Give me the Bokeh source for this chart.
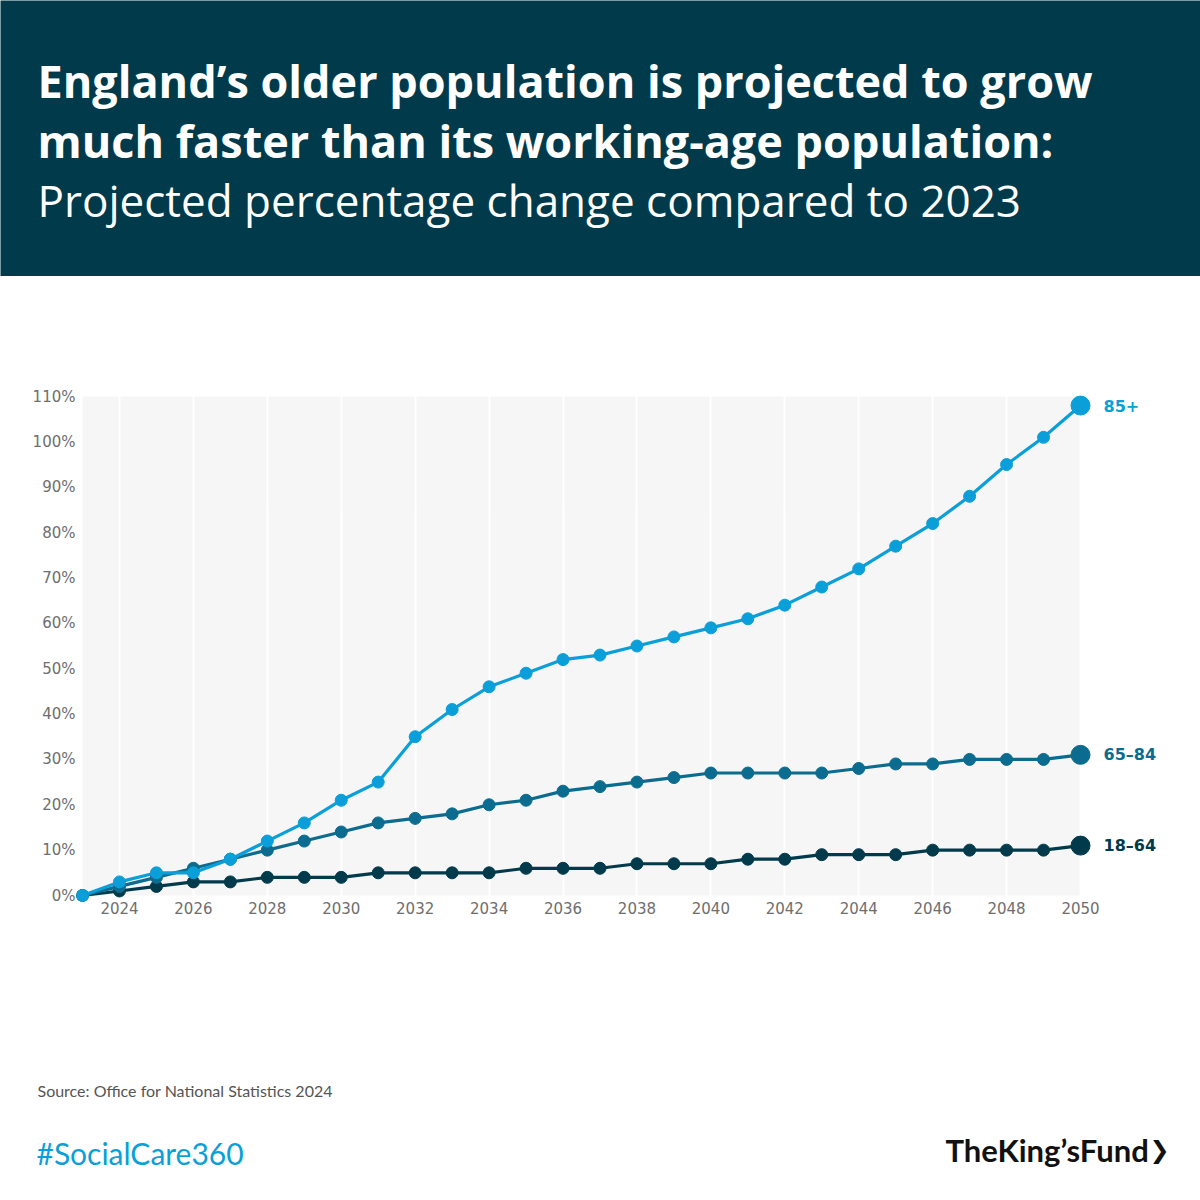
from bokeh.plotting import figure
from bokeh.layouts import column
from bokeh.models import Range1d, FixedTicker, ColumnDataSource
from bokeh.core.properties import value
from bokeh.embed import file_html
from bokeh.resources import INLINE

# ---------------- data ----------------
years = list(range(2023, 2051))
age_85_plus = [0, 3, 5, 5, 8, 12, 16, 21, 25, 35, 41, 46, 49, 52, 53, 55, 57, 59, 61, 64,
               68, 72, 77, 82, 88, 95, 101, 108]
age_65_84 = [0, 2, 4, 6, 8, 10, 12, 14, 16, 17, 18, 20, 21, 23, 24, 25, 26, 27, 27, 27,
             27, 28, 29, 29, 30, 30, 30, 31]
age_18_64 = [0, 1, 2, 3, 3, 4, 4, 4, 5, 5, 5, 5, 6, 6, 6, 7, 7, 7, 8, 8,
             9, 9, 9, 10, 10, 10, 10, 11]
series_names = ["18–64", "65–84", "85+"]
series_values = [age_18_64, age_65_84, age_85_plus]
series_colors = ["#003a4b", "#0b6c8f", "#0a9fd8"]

x_ticks = list(range(2024, 2051, 2))
y_ticks = list(range(0, 111, 10))
y_tick_labels = [f"{v}%" for v in y_ticks]

title_lines = ["England’s older population is projected to grow",
               "much faster than its working-age population:"]
subtitle = "Projected percentage change compared to 2023"
source_text = "Source: Office for National Statistics 2024"
hashtag = "#SocialCare360"
logo_text = "TheKing’sFund"

HEADER_BG = "#003a4b"
W = 1200


def blank_fig(h, y_top, y_bottom, bg):
    f = figure(width=W, height=h, x_range=Range1d(0, W), y_range=Range1d(y_bottom, y_top),
               x_axis_type=None, y_axis_type=None, toolbar_location=None,
               output_backend="svg", min_border=0, title=None,
               background_fill_color=bg, border_fill_color=bg,
               outline_line_color=None, frame_align=False)
    f.grid.visible = False
    return f


# ---------------- header ----------------
hdr = blank_fig(276, 0, 276, HEADER_BG)
hdr.text(x=[37, 37], y=[80, 140], text=title_lines, text_color="white",
         text_font=value("Open Sans"), text_font_style="bold", text_font_size="45px",
         text_baseline="middle", text_align="left")
hdr.text(x=[37], y=[199], text=[subtitle], text_color="white",
         text_font=value("Open Sans"), text_font_size="44px",
         text_baseline="middle", text_align="left")

# ---------------- chart ----------------
px_per_year = 998 / 27
px_per_pct = 499 / 110
x0 = 2023 - 6 / px_per_year
x1 = 2023 + (1170 - 82) / px_per_year
y0 = -6 / px_per_pct
y1 = (895 - 390) / px_per_pct

p = figure(width=W, height=774, x_range=Range1d(x0, x1), y_range=Range1d(y0, y1),
           toolbar_location=None, output_backend="svg", title=None,
           min_border_left=76, min_border_right=30, min_border_top=114,
           min_border_bottom=149, outline_line_color=None, frame_align=False,
           background_fill_color="white", border_fill_color="white")

# plot-area background
bg = p.quad(left=[years[0]], right=[years[-1]], bottom=[y_ticks[0]], top=[y_ticks[-1]],
            fill_color="#f6f6f6", line_color=None)
bg.level = "image"

p.xgrid.ticker = FixedTicker(ticks=x_ticks)
p.xgrid.grid_line_color = "white"
p.xgrid.grid_line_width = 2
p.ygrid.grid_line_color = None

p.xaxis.ticker = FixedTicker(ticks=x_ticks)
p.yaxis.ticker = FixedTicker(ticks=y_ticks)
p.yaxis.major_label_overrides = {t: lab for t, lab in zip(y_ticks, y_tick_labels)}
for ax in (p.xaxis, p.yaxis):
    ax.axis_line_color = None
    ax.major_tick_line_color = None
    ax.minor_tick_line_color = None
    ax.major_tick_out = 0
    ax.major_tick_in = 0
    ax.minor_tick_out = 0
    ax.minor_tick_in = 0
    ax.major_label_text_font = "DejaVu Sans"
    ax.major_label_text_font_size = "15px"
    ax.major_label_text_color = "#6e6e6e"
p.xaxis.major_label_standoff = 0
p.yaxis.major_label_standoff = 1

for name, vals, col in zip(series_names, series_values, series_colors):
    src = ColumnDataSource(dict(x=years, y=vals))
    p.line("x", "y", source=src, line_color=col, line_width=3.2)
    p.scatter("x", "y", source=src, size=12, fill_color=col, line_color=col)
    p.scatter([years[-1]], [vals[-1]], size=19, fill_color=col, line_color=col)
    p.text(x=[years[-1] + 23 / px_per_year], y=[vals[-1]], text=[name],
           text_color=col, text_font=value("DejaVu Sans"), text_font_style="bold",
           text_font_size="16px", text_baseline="middle", text_align="left")

# ---------------- footer ----------------
ft = blank_fig(150, 1050, 1200, "white")
ft.text(x=[37], y=[1090], text=[source_text], text_color="#555555",
        text_font=value("Lato"), text_font_size="16px", text_baseline="middle")
ft.text(x=[36], y=[1152], text=[hashtag], text_color="#0a9fd8",
        text_font=value("Lato"), text_font_size="30px", text_baseline="middle")
ft.text(x=[945], y=[1149], text=[logo_text], text_color="#111111",
        text_font=value("Lato"), text_font_style="bold", text_font_size="31px",
        text_baseline="middle")
ft.text(x=[1149], y=[1149], text=["❯"], text_color="#111111",
        text_font=value("DejaVu Sans"), text_font_size="24px",
        text_baseline="middle")

layout = column(hdr, p, ft, spacing=0)
open("out.html", "w").write(file_html(layout, INLINE))
